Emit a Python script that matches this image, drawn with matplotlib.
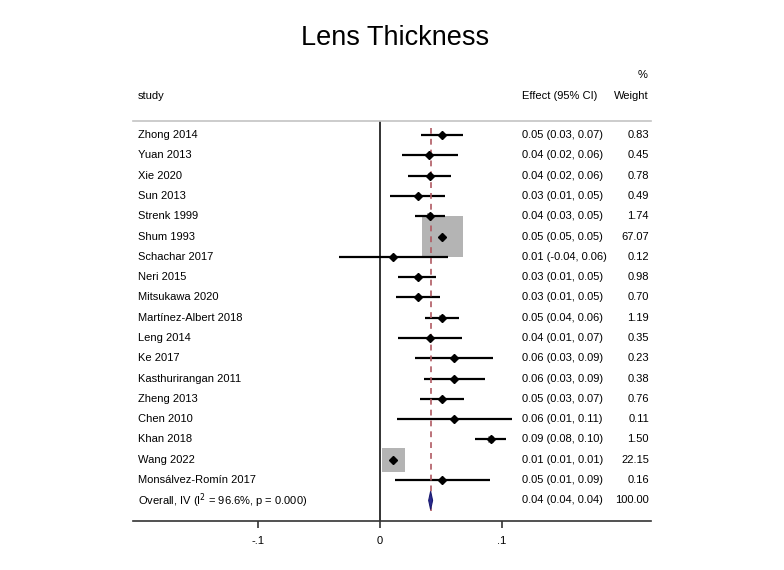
import numpy as np
import matplotlib
matplotlib.use('Agg')
import matplotlib.pyplot as plt

plt.rcParams['font.family'] = ['Liberation Sans', 'DejaVu Sans']

# ── Data ────────────────────────────────────────────────────────────────────
studies = ['Zhong 2014', 'Yuan 2013', 'Xie 2020', 'Sun 2013', 'Strenk 1999',
           'Shum 1993', 'Schachar 2017', 'Neri 2015', 'Mitsukawa 2020',
           'Martínez-Albert 2018', 'Leng 2014', 'Ke 2017',
           'Kasthurirangan 2011', 'Zheng 2013', 'Chen 2010', 'Khan 2018',
           'Wang 2022', 'Monsálvez-Romín 2017']
est = [0.051, 0.040, 0.041, 0.031, 0.041, 0.051, 0.011, 0.031, 0.031,
       0.051, 0.041, 0.061, 0.061, 0.051, 0.061, 0.091, 0.011, 0.051]
lo  = [0.034, 0.018, 0.023, 0.008, 0.029, 0.0505, -0.034, 0.015, 0.013,
       0.037, 0.015, 0.029, 0.036, 0.033, 0.014, 0.078, 0.0105, 0.012]
hi  = [0.068, 0.064, 0.058, 0.053, 0.053, 0.0515, 0.056, 0.046, 0.049,
       0.065, 0.067, 0.093, 0.086, 0.069, 0.108, 0.103, 0.0115, 0.090]
effect_txt = ['0.05 (0.03, 0.07)', '0.04 (0.02, 0.06)', '0.04 (0.02, 0.06)',
              '0.03 (0.01, 0.05)', '0.04 (0.03, 0.05)', '0.05 (0.05, 0.05)',
              '0.01 (-0.04, 0.06)', '0.03 (0.01, 0.05)', '0.03 (0.01, 0.05)',
              '0.05 (0.04, 0.06)', '0.04 (0.01, 0.07)', '0.06 (0.03, 0.09)',
              '0.06 (0.03, 0.09)', '0.05 (0.03, 0.07)', '0.06 (0.01, 0.11)',
              '0.09 (0.08, 0.10)', '0.01 (0.01, 0.01)', '0.05 (0.01, 0.09)']
weights = [0.83, 0.45, 0.78, 0.49, 1.74, 67.07, 0.12, 0.98, 0.70, 1.19,
           0.35, 0.23, 0.38, 0.76, 0.11, 1.50, 22.15, 0.16]

overall_label = 'Overall, IV (I$^2$ = 96.6%, p = 0.000)'
overall_est, overall_lo, overall_hi = 0.0415, 0.0399, 0.0431
overall_txt = '0.04 (0.04, 0.04)'
overall_w = '100.00'

x_ticks = [-0.1, 0, 0.1]
x_ticklabels = ['-.1', '0', '.1']

# ── Layout ──────────────────────────────────────────────────────────────────
W, H = 784, 570
fig = plt.figure(figsize=(W / 100, H / 100), dpi=100)
fig.patch.set_facecolor('white')

ax_l, ax_r, ax_t, ax_b = 133, 651, 121, 521
ax = fig.add_axes([ax_l / W, (H - ax_b) / H, (ax_r - ax_l) / W, (ax_b - ax_t) / H])

# px -> data: zero at x=380, 1220 px per unit
ax.set_xlim((ax_l - 380) / 1220, (ax_r - 380) / 1220)
row0, drow = 135, 20.3
ax.set_ylim((ax_b - row0) / drow, (ax_t - row0) / drow)

n = len(studies)
rows = np.arange(n)

# weight boxes (area ~ weight)
ax.scatter(est, rows, s=np.array(weights) * 13, marker='s', color='#b4b4b4',
           linewidths=0, zorder=2)
# CI lines
ax.hlines(rows, lo, hi, color='black', lw=1.6, zorder=3)
# point estimates
ax.plot(est, rows, 'D', color='black', ms=3.8, zorder=4)

# overall diamond
orow = n
ax.fill([overall_lo, overall_est, overall_hi, overall_est],
        [orow, orow - 0.45, orow, orow + 0.45],
        facecolor='#2a2a90', edgecolor='#1a1a70', lw=0.8, zorder=4)

# null line and overall line
ax.axvline(0, color='#333333', lw=1.4, zorder=1)
ax.plot([overall_est, overall_est], [-0.35, orow + 0.5], color='#b05a62',
        lw=1.2, ls=(0, (3.5, 3)), zorder=3)

# spines / ticks
for s in ['left', 'right']:
    ax.spines[s].set_visible(False)
ax.spines['top'].set_color('#c4c4c4')
ax.spines['top'].set_linewidth(1.2)
ax.spines['bottom'].set_color('#333333')
ax.spines['bottom'].set_linewidth(1.2)
ax.set_yticks([])
ax.set_xticks(x_ticks)
ax.set_xticklabels(x_ticklabels, fontsize=8)
ax.tick_params(axis='x', direction='out', length=5, width=1.2,
               color='#333333', pad=6)

# text columns
tr = ax.get_yaxis_transform()
fs = 8
x_study = (138 - ax_l) / (ax_r - ax_l)
x_eff = (522 - ax_l) / (ax_r - ax_l)
x_w = (649 - ax_l) / (ax_r - ax_l)
for i in range(n):
    ax.text(x_study, i, studies[i], transform=tr, fontsize=fs, va='center', ha='left')
    ax.text(x_eff, i, effect_txt[i], transform=tr, fontsize=fs, va='center', ha='left')
    ax.text(x_w, i, f'{weights[i]:.2f}', transform=tr, fontsize=fs, va='center', ha='right')
ax.text(x_study, orow, overall_label, transform=tr, fontsize=fs, va='center', ha='left')
ax.text(x_eff, orow, overall_txt, transform=tr, fontsize=fs, va='center', ha='left')
ax.text(x_w, orow, overall_w, transform=tr, fontsize=fs, va='center', ha='right')

# header
hdr = (96 - row0) / drow
ax.text(x_study, hdr, 'study', transform=tr, fontsize=fs, va='center', ha='left', clip_on=False)
ax.text(x_eff, hdr, 'Effect (95% CI)', transform=tr, fontsize=fs, va='center', ha='left', clip_on=False)
ax.text(x_w, hdr, 'Weight', transform=tr, fontsize=fs, va='center', ha='right', clip_on=False)
ax.text((648 - ax_l) / (ax_r - ax_l), (75 - row0) / drow, '%', transform=tr,
        fontsize=fs, va='center', ha='right', clip_on=False)

fig.text(395 / W, 1 - 38 / H, 'Lens Thickness', fontsize=19.5, ha='center', va='center')

fig.savefig('out.png', dpi=100, facecolor='white')
